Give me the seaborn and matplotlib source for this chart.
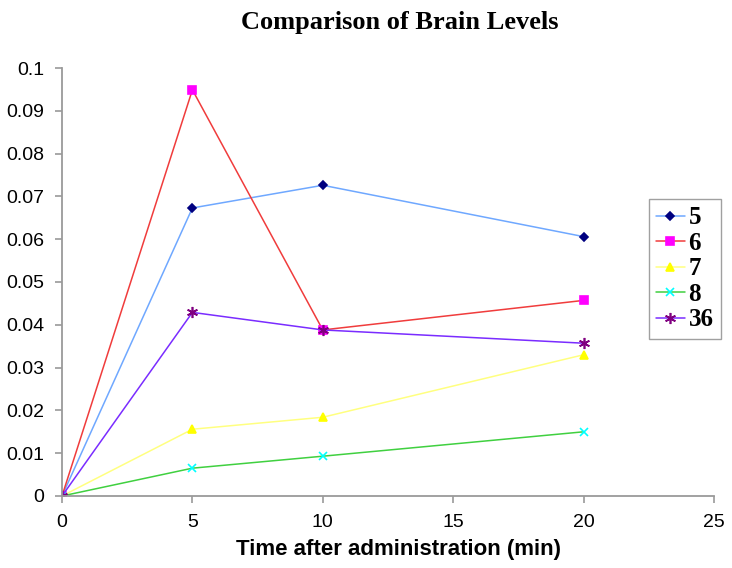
import matplotlib
matplotlib.use("Agg")
import matplotlib.pyplot as plt
import seaborn as sns
import pandas as pd

# Data
times = [0, 5, 10, 20]
series_names = ["5", "6", "7", "8", "36"]
vals_5 = [0.0, 0.0673, 0.0726, 0.0606]
vals_6 = [0.0, 0.0949, 0.0388, 0.0457]
vals_7 = [0.0, 0.0156, 0.0184, 0.0330]
vals_8 = [0.0, 0.0065, 0.0093, 0.0150]
vals_36 = [0.0, 0.0429, 0.0388, 0.0357]

all_vals = [vals_5, vals_6, vals_7, vals_8, vals_36]

# line colour, marker, marker face, marker edge, marker size
styles = {
    "5": ("#6fa8ff", "D", "#000080", "#000080", 4.5),
    "6": ("#f03c3c", "s", "#ff00ff", "#ff00ff", 6),
    "7": ("#ffff80", "^", "#ffff00", "#ffff00", 6),
    "8": ("#40d040", "x", "#00ffff", "#00ffff", 6),
    "36": ("#7a2cff", (6, 2, 0), "#800080", "#800080", 8),
}

rows = []
for name, vals in zip(series_names, all_vals):
    for t, v in zip(times, vals):
        rows.append({"time": t, "level": v, "series": name})
df = pd.DataFrame(rows)

sns.set_style("ticks")
plt.rcParams["text.color"] = "black"
plt.rcParams["xtick.labelcolor"] = "black"
plt.rcParams["ytick.labelcolor"] = "black"

fig = plt.figure(figsize=(7.32, 5.68), dpi=100)
ax = fig.add_axes([62 / 732, 72 / 568, 652 / 732, 428 / 568])

for name in series_names:
    lc, mk, mfc, mec, ms = styles[name]
    sub = df[df["series"] == name]
    sns.lineplot(data=sub, x="time", y="level", ax=ax, color=lc, linewidth=1.1,
                 marker=mk, markerfacecolor=mfc, markeredgecolor=mec,
                 markersize=ms, markeredgewidth=1.2, label=name)

ax.set_xlim(0, 25)
ax.set_ylim(0, 0.1)
ax.set_xticks([0, 5, 10, 15, 20, 25])
ax.set_yticks([0, 0.01, 0.02, 0.03, 0.04, 0.05, 0.06, 0.07, 0.08, 0.09, 0.1])
ax.set_yticklabels(["0", "0.01", "0.02", "0.03", "0.04", "0.05", "0.06",
                    "0.07", "0.08", "0.09", "0.1"])
for lab in ax.get_xticklabels() + ax.get_yticklabels():
    lab.set_fontfamily("Liberation Sans")
    lab.set_fontsize(14)
    lab.set_color("black")

sns.despine(ax=ax)
for side in ["left", "bottom"]:
    ax.spines[side].set_color("#9a9a9a")
    ax.spines[side].set_linewidth(1.3)
ax.tick_params(axis="both", direction="out", length=5, width=1.2,
               color="#9a9a9a", pad=8)

ax.set_xlabel("Time after administration (min)", fontfamily="Liberation Sans",
              fontweight="bold", fontsize=16, color="black", va="center")
ax.xaxis.set_label_coords((398 - 62) / 652, (496 - 550) / 428)
ax.set_ylabel("")
fig.suptitle("Comparison of Brain Levels", fontfamily="Liberation Serif",
             fontweight="bold", fontsize=19, x=400 / 732, y=1 - 23 / 568,
             va="center", color="black")

leg = ax.legend(loc="upper right", bbox_to_anchor=(721 / 732, 1 - 199 / 568),
                bbox_transform=fig.transFigure, frameon=True, fancybox=False,
                borderpad=0.3, labelspacing=0.1, handlelength=1.15,
                handletextpad=0.15, borderaxespad=0,
                prop={"family": "Liberation Serif", "weight": "bold", "size": 18})
leg.get_frame().set_edgecolor("#888888")
leg.get_frame().set_linewidth(1.0)

fig.savefig("out.png", dpi=100)
